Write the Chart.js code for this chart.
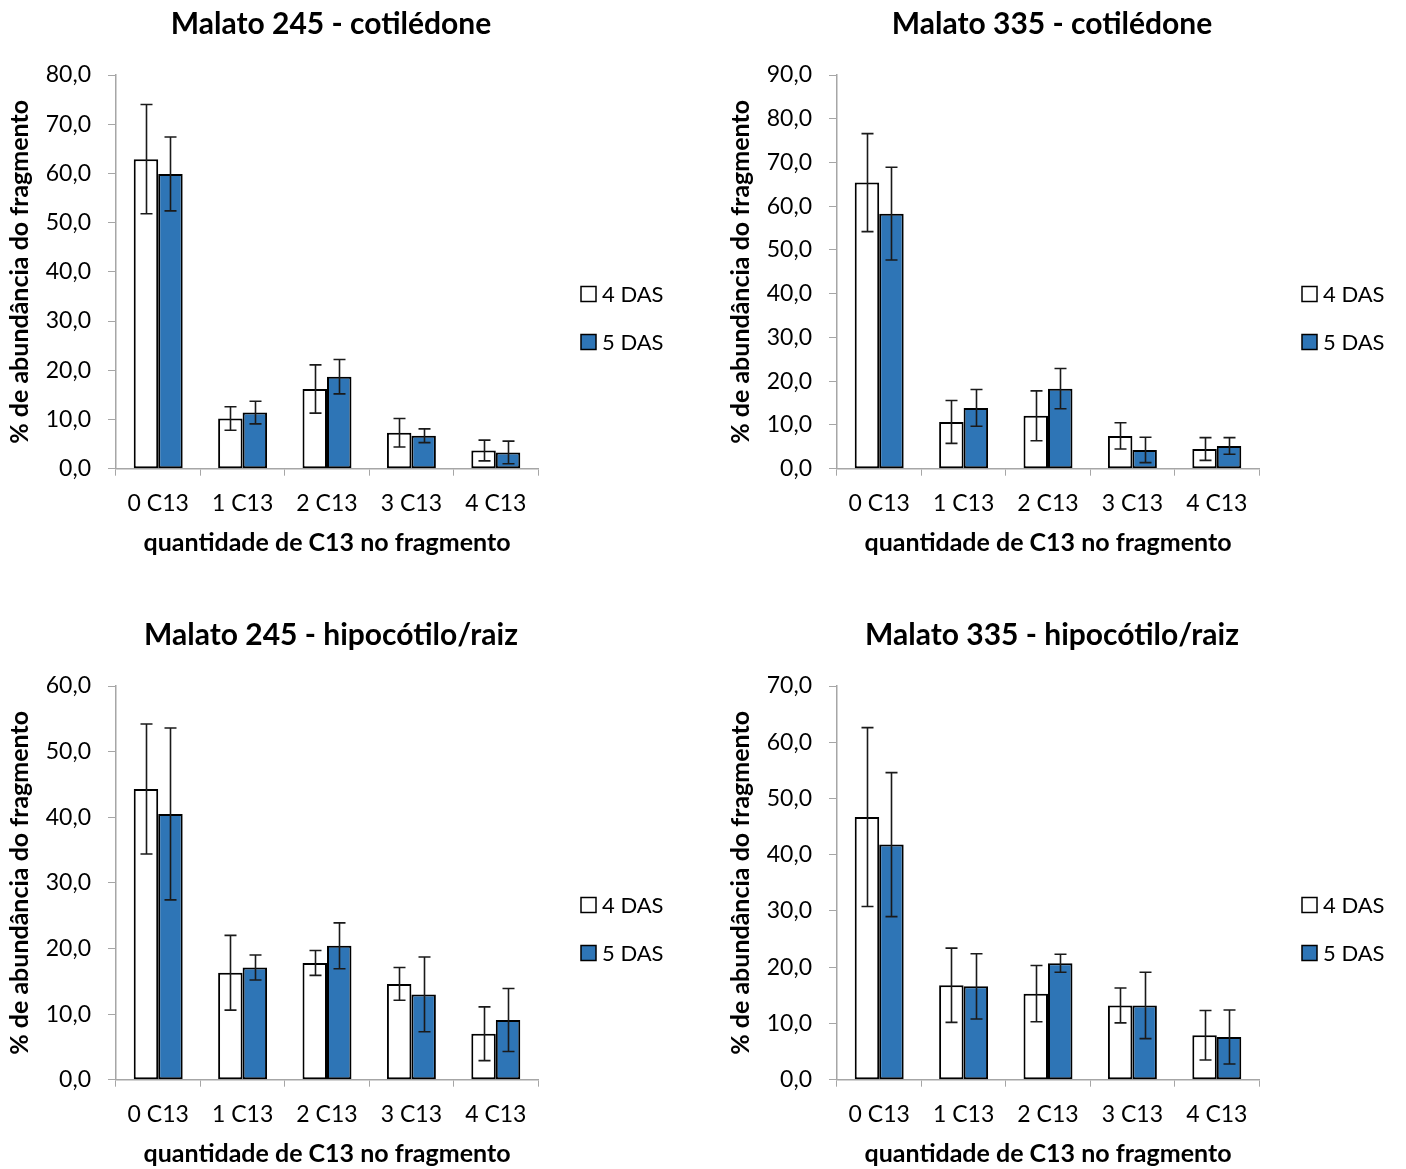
<!DOCTYPE html>
<html>
<head>
<meta charset="utf-8">
<script src="https://cdn.jsdelivr.net/npm/chart.js@4/dist/chart.umd.min.js"></script>
<style>
  html, body { margin: 0; padding: 0; background: #fff; }
  body { width: 1406px; height: 1169px; position: relative; overflow: hidden; }
  canvas { position: absolute; }
  #c1 { left: 0; top: 0; }
  #c2 { left: 721px; top: 0; }
  #c3 { left: 0; top: 611px; }
  #c4 { left: 721px; top: 611px; }
</style>
</head>
<body>
<canvas id="c1" width="685" height="558"></canvas>
<canvas id="c2" width="685" height="558"></canvas>
<canvas id="c3" width="685" height="558"></canvas>
<canvas id="c4" width="685" height="558"></canvas>
<script>
// Categories and series
const categories = ['0 C13', '1 C13', '2 C13', '3 C13', '4 C13'];
const seriesNames = ['4 DAS', '5 DAS'];

// Malato 245 - cotilédone
const cot245Das4 = [62.9, 10.2, 16.2, 7.3, 3.7];
const cot245Das4Err = [11.1, 2.4, 4.9, 2.9, 2.1];
const cot245Das5 = [59.9, 11.4, 18.7, 6.7, 3.3];
const cot245Das5Err = [7.5, 2.3, 3.5, 1.4, 2.3];

// Malato 335 - cotilédone
const cot335Das4 = [65.4, 10.7, 12.1, 7.5, 4.5];
const cot335Das4Err = [11.2, 4.9, 5.7, 3.0, 2.6];
const cot335Das5 = [58.3, 13.9, 18.3, 4.3, 5.2];
const cot335Das5Err = [10.6, 4.2, 4.6, 2.9, 1.9];

// Malato 245 - hipocótilo/raiz
const hip245Das4 = [44.3, 16.3, 17.8, 14.6, 7.0];
const hip245Das4Err = [9.9, 5.7, 1.9, 2.5, 4.1];
const hip245Das5 = [40.5, 17.1, 20.4, 13.0, 9.1];
const hip245Das5Err = [13.1, 1.9, 3.5, 5.7, 4.8];

// Malato 335 - hipocótilo/raiz
const hip335Das4 = [46.7, 16.8, 15.3, 13.2, 7.9];
const hip335Das4Err = [15.9, 6.6, 5.0, 3.1, 4.4];
const hip335Das5 = [41.8, 16.6, 20.7, 13.2, 7.6];
const hip335Das5Err = [12.8, 5.8, 1.6, 5.9, 4.8];

// Y axis maxima
const yMax = [80, 90, 60, 70];

const titles = [
  'Malato 245 - cotilédone',
  'Malato 335 - cotilédone',
  'Malato 245 - hipocótilo/raiz',
  'Malato 335 - hipocótilo/raiz'
];

const FONT = 'Lato, "Open Sans", sans-serif';
const AXIS_GRAY = '#A6A6A6';
const BLUE = '#2E75B6';

// Draws the ± error whiskers over each bar
const errorBarPlugin = {
  id: 'errorBars',
  afterDatasetsDraw(chart) {
    const ctx = chart.ctx;
    const y = chart.scales.y;
    ctx.save();
    ctx.strokeStyle = '#1a1a1a';
    ctx.lineWidth = 1.6;
    chart.data.datasets.forEach((ds, di) => {
      const meta = chart.getDatasetMeta(di);
      meta.data.forEach((bar, i) => {
        const v = ds.data[i];
        const e = ds.errors[i];
        const x = Math.round(bar.x) + 0.5;
        const yTop = y.getPixelForValue(v + e);
        const yBot = y.getPixelForValue(Math.max(0, v - e));
        const cap = 6;
        ctx.beginPath();
        ctx.moveTo(x, yTop); ctx.lineTo(x, yBot);
        ctx.moveTo(x - cap, yTop); ctx.lineTo(x + cap, yTop);
        ctx.moveTo(x - cap, yBot); ctx.lineTo(x + cap, yBot);
        ctx.stroke();
      });
    });
    ctx.restore();
  }
};

// Panel heading, centred a little right of the plot centre
const panelTitlePlugin = {
  id: 'panelTitle',
  afterDraw(chart, args, opts) {
    const ctx = chart.ctx;
    ctx.save();
    ctx.fillStyle = '#000';
    ctx.font = 'bold 30px ' + FONT;
    ctx.textAlign = 'center';
    ctx.textBaseline = 'middle';
    ctx.fillText(opts.text, chart.chartArea.left + 215, 24);
    ctx.restore();
  }
};

// Legend at the right of the plot area
const sideLegendPlugin = {
  id: 'sideLegend',
  afterDraw(chart) {
    const ctx = chart.ctx;
    const area = chart.chartArea;
    const boxX = area.right + 43;
    const rows = [219, 267];
    ctx.save();
    chart.data.datasets.forEach((ds, di) => {
      const cy = area.top + rows[di];
      ctx.fillStyle = ds.backgroundColor;
      ctx.fillRect(boxX, cy - 7.5, 15, 15);
      ctx.strokeStyle = '#000';
      ctx.lineWidth = 1.5;
      ctx.strokeRect(boxX, cy - 7.5, 15, 15);
      ctx.fillStyle = '#000';
      ctx.font = '22px ' + FONT;
      ctx.textBaseline = 'middle';
      ctx.textAlign = 'left';
      ctx.fillText(ds.label, boxX + 21, cy + 1);
    });
    ctx.restore();
  }
};

function makeChart(id, title, max, d4, e4, d5, e5) {
  return new Chart(document.getElementById(id), {
    type: 'bar',
    data: {
      labels: categories,
      datasets: [
        { label: seriesNames[0], data: d4, errors: e4, backgroundColor: '#FFFFFF',
          borderColor: '#000', borderWidth: 2, borderSkipped: false },
        { label: seriesNames[1], data: d5, errors: e5, backgroundColor: BLUE,
          borderColor: '#000', borderWidth: 2, borderSkipped: false }
      ]
    },
    options: {
      responsive: false,
      animation: false,
      devicePixelRatio: 1,
      layout: { padding: { left: 0, right: 147, top: 75, bottom: 0 } },
      datasets: { bar: { categoryPercentage: 0.58, barPercentage: 1.0 } },
      plugins: {
        legend: { display: false },
        tooltip: { enabled: false },
        title: { display: false },
        panelTitle: { text: title }
      },
      scales: {
        x: {
          grid: { display: true, drawOnChartArea: false, drawTicks: true, tickLength: 7, color: AXIS_GRAY, offset: true },
          border: { display: true, color: AXIS_GRAY, width: 1.5 },
          ticks: { color: '#000', font: { family: FONT, size: 23 }, padding: 14, maxRotation: 0 },
          title: {
            display: true, text: 'quantidade de C13 no fragmento', color: '#000',
            font: { family: FONT, size: 25, weight: 'bold' }, padding: { top: 0, bottom: 0 }
          },
          afterFit(scale) { scale.height = 89.3; }
        },
        y: {
          min: 0, max: max,
          grid: { display: true, drawOnChartArea: false, drawTicks: true, tickLength: 8, color: AXIS_GRAY },
          border: { display: true, color: AXIS_GRAY, width: 1.5 },
          ticks: {
            stepSize: 10, color: '#000', font: { family: FONT, size: 23 }, padding: 17,
            callback: v => v.toFixed(1).replace('.', ',')
          },
          title: {
            display: true, text: '% de abundância do fragmento', color: '#000',
            font: { family: FONT, size: 25, weight: 'bold' }, padding: { top: 5, bottom: 0 }
          },
          afterFit(scale) { scale.width = 116; }
        }
      }
    },
    plugins: [errorBarPlugin, panelTitlePlugin, sideLegendPlugin]
  });
}

makeChart('c1', titles[0], yMax[0], cot245Das4, cot245Das4Err, cot245Das5, cot245Das5Err);
makeChart('c2', titles[1], yMax[1], cot335Das4, cot335Das4Err, cot335Das5, cot335Das5Err);
makeChart('c3', titles[2], yMax[2], hip245Das4, hip245Das4Err, hip245Das5, hip245Das5Err);
makeChart('c4', titles[3], yMax[3], hip335Das4, hip335Das4Err, hip335Das5, hip335Das5Err);
</script>
</body>
</html>
